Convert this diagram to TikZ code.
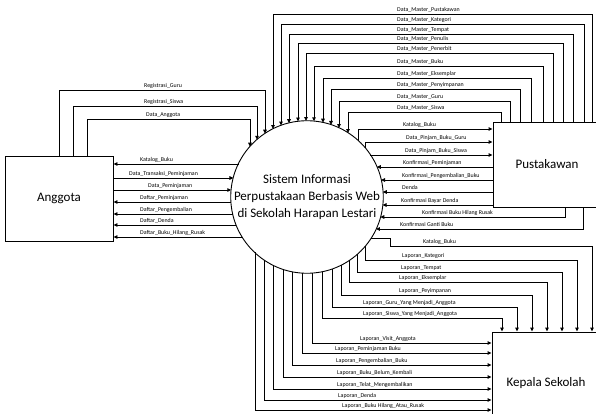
\documentclass[tikz,border=0pt]{standalone}
\usepackage{fontspec}
\setmainfont{Carlito}
\usetikzlibrary{arrows.meta,calc}
\begin{document}
\begin{tikzpicture}[x=1pt,y=-1pt,
  flow/.style={draw=black,line width=0.9pt},
  arr/.style={flow,-{Triangle[length=4pt,width=3.6pt]}},
  entity/.style={draw,line width=0.9pt,minimum width=108pt,minimum height=85pt,inner sep=0pt,font=\fontsize{13}{16}\selectfont},
  lbl/.style={anchor=base west,inner sep=0pt,yshift=2.5pt,font=\fontsize{5.9}{7}\selectfont},
]
\def\pcx{307}\def\pcy{197}\def\prad{76}
\useasboundingbox (0,0) rectangle (596,414);
\clip (0,0) rectangle (596,414);

% process and external entities
\node[circle,draw,line width=0.9pt,minimum size=152pt,inner sep=0pt,align=center,
      font=\fontsize{13}{17}\selectfont] (sys) at (\pcx,\pcy)
      {Sistem Informasi\\Perpustakaan Berbasis Web\\di Sekolah Harapan Lestari};
\node[entity] (ang) at (59,198.5) {Anggota};
\node[entity] (pus) at (547,164.5) {Pustakawan};
\node[entity,minimum height=102pt] (kep) at (546,383) {Kepala Sekolah};

% points on the process circle
\foreach \x in {250,257,265,273,281,289,298,306,314,323,331,339,348,358,365}
  \coordinate (T\x) at ($(sys.center)+({\x-\pcx},{-sqrt(\prad*\prad-(\x-\pcx)*(\x-\pcx))})$);
\foreach \x in {255,264,273,283,292,302,312,322,332,341,349,357,365}
  \coordinate (B\x) at ($(sys.center)+({\x-\pcx},{sqrt(\prad*\prad-(\x-\pcx)*(\x-\pcx))})$);
\foreach \y in {164,178,190,202,214,225,237}
  \coordinate (L\y) at ($(sys.center)+({-sqrt(\prad*\prad-(\y-\pcy)*(\y-\pcy))},{\y-\pcy})$);
\foreach \y in {155,167,180,192,205,217,229,238}
  \coordinate (R\y) at ($(sys.center)+({sqrt(\prad*\prad-(\y-\pcy)*(\y-\pcy))},{\y-\pcy})$);

% Anggota <-> system
\draw[arr] (ang.north) |- (265,90) -- (T265);
\draw[arr] (73,0 |- ang.north) |- (257,106) -- (T257);
\draw[arr] (87,0 |- ang.north) |- (250,119) -- (T250);
\node[lbl] at (144,90) {Registrasi\_Guru};
\node[lbl] at (144,106) {Registrasi\_Siswa};
\node[lbl] at (146,119) {Data\_Anggota};

\draw[arr] (L164) -- (ang.east |- L164);
\draw[arr] (ang.east |- L178) -- (L178);
\draw[arr] (ang.east |- L190) -- (L190);
\foreach \y in {202,214,225,237} \draw[arr] (L\y) -- (ang.east |- L\y);
\node[lbl] at (140,164) {Katalog\_Buku};
\node[lbl] at (129,178) {Data\_Transaksi\_Peminjaman};
\node[lbl] at (148,190) {Data\_Peminjaman};
\node[lbl] at (140,202) {Daftar\_Peminjaman};
\node[lbl] at (140,214) {Daftar\_Pengembalian};
\node[lbl] at (140,225) {Daftar\_Denda};
\node[lbl] at (140,237) {Daftar\_Buku\_Hilang\_Rusak};

% Pustakawan -> system: master data
\foreach \xp/\yl/\xc in {592/14/273, 584/24/281, 573/34/289, 563/43/298, 553/53/306,
                          543/66/314, 531/78/323, 520/89/331, 510/101/339, 501/112/348}
  \draw[arr] (\xp,0 |- pus.north) |- (\xc,\yl) -- (T\xc);
\foreach \yl/\t in {14/Pustakawan, 24/Kategori, 34/Tempat, 43/Penulis, 53/Penerbit,
                    66/Buku, 78/Eksemplar, 89/Penyimpanan, 101/Guru, 112/Siswa}
  \node[lbl] at (397,\yl) {Data\_Master\_\t};

% system <-> Pustakawan
\draw[arr] (T358) |- (pus.west |- 0,129);
\draw[arr] (T365) |- (pus.west |- 0,142);
\draw[arr] (R155) -- (pus.west |- R155);
\foreach \y in {167,180,192,205} \draw[arr] (pus.west |- R\y) -- (R\y);
\draw[arr] (565,0 |- pus.south) |- (R217);
\draw[arr] (583,0 |- pus.south) |- (R229);
\node[lbl] at (403,129) {Katalog\_Buku};
\node[lbl] at (406,142) {Data\_Pinjam\_Buku\_Guru};
\node[lbl] at (405,155) {Data\_Pinjam\_Buku\_Siswa};
\node[lbl] at (403,167) {Konfirmasi\_Peminjaman};
\node[lbl] at (402,180) {Konfirmasi\_Pengembalian\_Buku};
\node[lbl] at (402,192) {Denda};
\node[lbl] at (401,205) {Konfirmasi Bayar Denda};
\node[lbl] at (422,217) {Konfirmasi Buku Hilang Rusak};
\node[lbl] at (400,229) {Konfirmasi Ganti Buku};

% system -> Kepala Sekolah (top side)
\draw[arr] (R238) -| (390,246) -| (592,0 |- kep.north);
\foreach \xb/\yl/\xk in {365/260/577, 357/272/562, 349/282/547, 341/295/532, 332/307/517, 322/318/502}
  \draw[arr] (B\xb) |- (\xk,\yl) -- (\xk,0 |- kep.north);
\node[lbl] at (423,246) {Katalog\_Buku};
\node[lbl] at (402,260) {Laporan\_Kategori};
\node[lbl] at (401,272) {Laporan\_Tempat};
\node[lbl] at (399,282) {Laporan\_Eksemplar};
\node[lbl] at (399,295) {Laporan\_Peyimpanan};
\node[lbl] at (363,307) {Laporan\_Guru\_Yang Menjadi\_Anggota};
\node[lbl] at (363,318) {Laporan\_Siswa\_Yang Menjadi\_Anggota};

% system -> Kepala Sekolah (left side)
\foreach \xb/\yl in {312/343, 302/353, 292/365, 283/377, 273/389, 264/400, 255/410}
  \draw[arr] (B\xb) |- (kep.west |- 0,\yl);
\node[lbl] at (360,343) {Laporan\_Visit\_Anggota};
\node[lbl] at (335,353) {Laporan\_Peminjaman Buku};
\node[lbl] at (336,365) {Laporan\_Pengembalian\_Buku};
\node[lbl] at (337,377) {Laporan\_Buku\_Belum\_Kembali};
\node[lbl] at (337,389) {Laporan\_Telat\_Mengembalikan};
\node[lbl] at (338,400) {Laporan\_Denda};
\node[lbl] at (342,410) {Laporan\_Buku Hilang\_Atau\_Rusak};
\end{tikzpicture}
\end{document}
